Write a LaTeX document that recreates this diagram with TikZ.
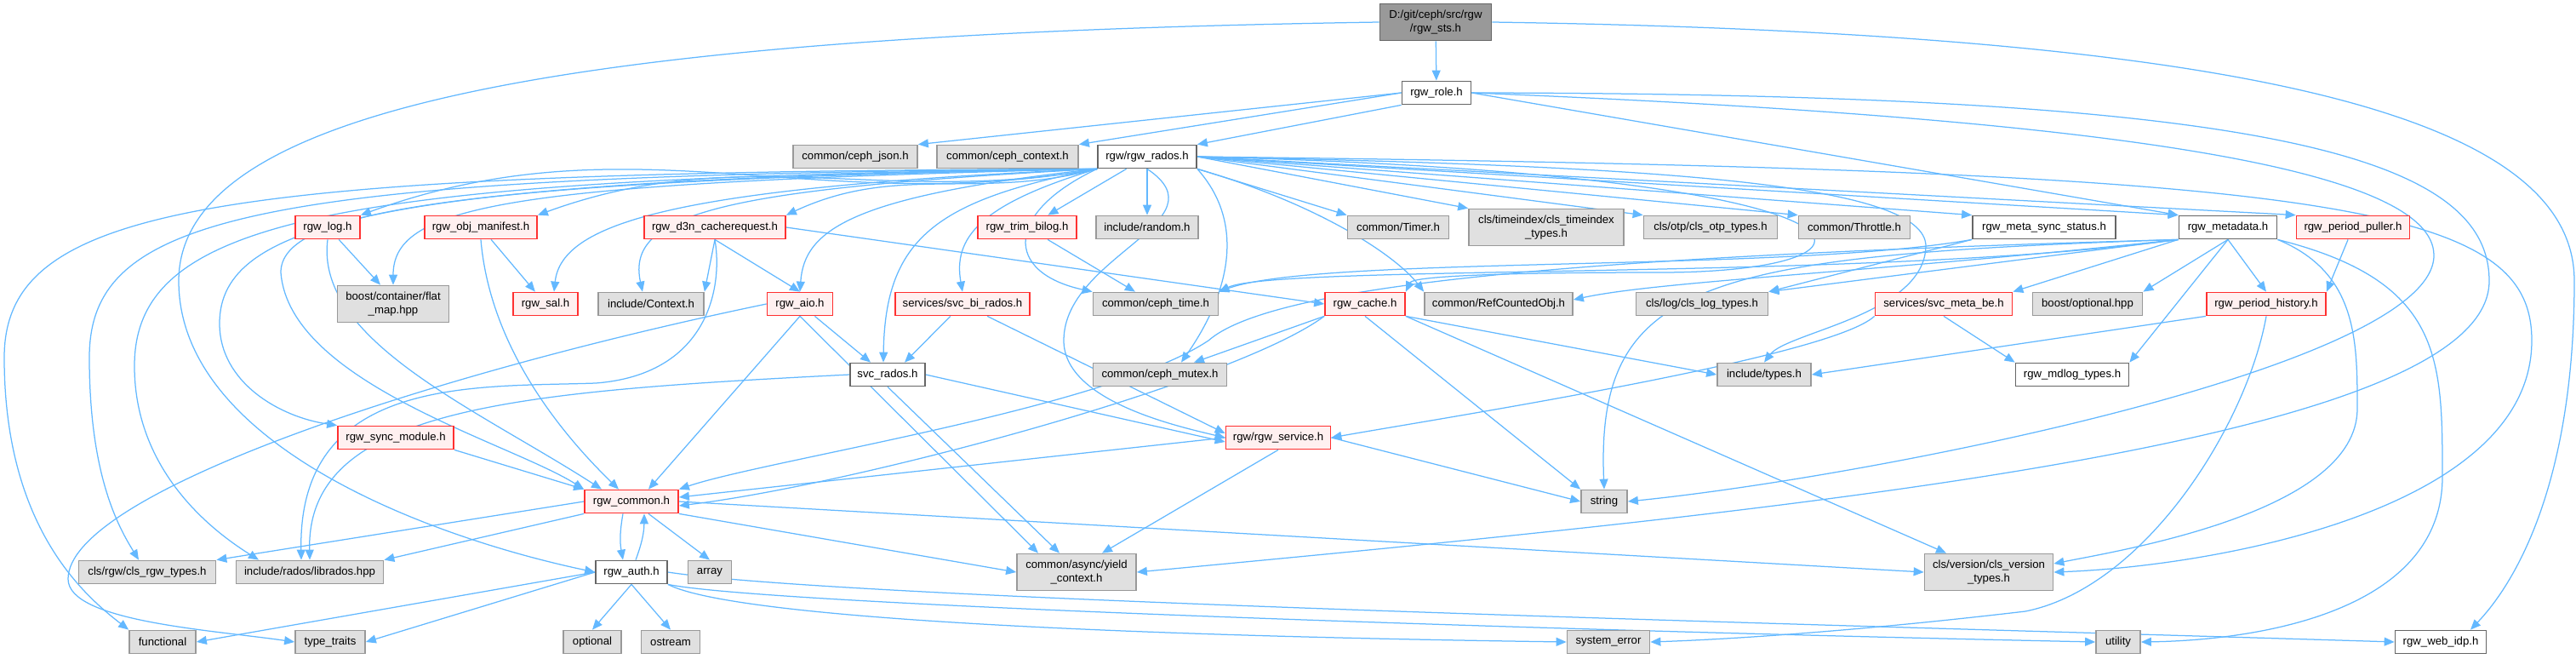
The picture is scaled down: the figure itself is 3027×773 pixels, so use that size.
\documentclass[tikz,border=0pt]{standalone}
\usepackage{fontspec}
\setmainfont{Liberation Sans}
\usetikzlibrary{arrows.meta, backgrounds}

\definecolor{edgeBlue}{HTML}{63B8FF}
\definecolor{extFill}{HTML}{E0E0E0}
\definecolor{extBorder}{HTML}{999999}
\definecolor{truncFill}{HTML}{FFF0F0}
\definecolor{truncBorder}{HTML}{FF3030}
\definecolor{fileBorder}{HTML}{666666}
\definecolor{rootFill}{HTML}{999999}

\begin{document}
\begin{tikzpicture}[
        x=0.2mm, y=-0.2mm,
        baseNode/.style={
            rectangle,
            line width=0.35mm,
            font=\fontsize{7.5}{9.5}\selectfont,
            align=center,
            inner sep=1pt,
            minimum height=5.4mm
        },
        rootNode/.style={baseNode, draw=fileBorder, fill=rootFill},
        fileNode/.style={baseNode, draw=fileBorder, fill=white},
        truncNode/.style={baseNode, draw=truncBorder, fill=truncFill},
        extNode/.style={baseNode, draw=extBorder, fill=extFill},
        boxWidth/.style={minimum width=#1*0.2mm},
        twoLines/.style={minimum height=8.6mm},
        depEdge/.style={
            draw=edgeBlue,
            line width=0.25mm,
            -{Triangle[length=2.4mm,width=2mm]}
        }
    ]

        \useasboundingbox (0,0) rectangle (3027,773);

        % Header nodes
        \node[rootNode, boxWidth=131, twoLines] (sts) at (1687,26) {D:/git/ceph/src/rgw\\/rgw\_sts.h};
        \node[fileNode, boxWidth=81] (role) at (1688,109) {rgw\_role.h};
        \node[extNode, boxWidth=146] (json) at (1005,184) {common/ceph\_json.h};
        \node[extNode, boxWidth=166] (ctx) at (1184,184) {common/ceph\_context.h};
        \node[fileNode, boxWidth=116] (rados) at (1348,184) {rgw/rgw\_rados.h};

        \node[truncNode, boxWidth=76] (log) at (385,267) {rgw\_log.h};
        \node[truncNode, boxWidth=132] (manifest) at (565,267) {rgw\_obj\_manifest.h};
        \node[truncNode, boxWidth=166] (d3n) at (840,267) {rgw\_d3n\_cacherequest.h};
        \node[truncNode, boxWidth=116] (bilog) at (1207,267) {rgw\_trim\_bilog.h};
        \node[extNode, boxWidth=120] (random) at (1348,267) {include/random.h};
        \node[extNode, boxWidth=119] (timer) at (1643,267) {common/Timer.h};
        \node[extNode, boxWidth=182, twoLines] (timeindex) at (1817,267) {cls/timeindex/cls\_timeindex\\\_types.h};
        \node[extNode, boxWidth=157] (otp) at (2010,267) {cls/otp/cls\_otp\_types.h};
        \node[extNode, boxWidth=131] (throttle) at (2179,267) {common/Throttle.h};
        \node[fileNode, boxWidth=168] (metasync) at (2402,267) {rgw\_meta\_sync\_status.h};
        \node[fileNode, boxWidth=115] (metadata) at (2618,267) {rgw\_metadata.h};
        \node[truncNode, boxWidth=133] (puller) at (2765,267) {rgw\_period\_puller.h};

        \node[extNode, boxWidth=131, twoLines] (flatmap) at (462,357) {boost/container/flat\\\_map.hpp};
        \node[truncNode, boxWidth=76] (sal) at (641,357) {rgw\_sal.h};
        \node[extNode, boxWidth=124] (context) at (765,357) {include/Context.h};
        \node[truncNode, boxWidth=77] (aio) at (940,357) {rgw\_aio.h};
        \node[truncNode, boxWidth=158] (svcbi) at (1131,357) {services/svc\_bi\_rados.h};
        \node[extNode, boxWidth=147] (cephtime) at (1358,357) {common/ceph\_time.h};
        \node[truncNode, boxWidth=94] (cache) at (1604,357) {rgw\_cache.h};
        \node[extNode, boxWidth=174] (refobj) at (1761,357) {common/RefCountedObj.h};
        \node[extNode, boxWidth=155] (clslog) at (2000,357) {cls/log/cls\_log\_types.h};
        \node[truncNode, boxWidth=161] (metabe) at (2284,357) {services/svc\_meta\_be.h};
        \node[extNode, boxWidth=129] (boostopt) at (2453,357) {boost/optional.hpp};
        \node[truncNode, boxWidth=140] (history) at (2663,357) {rgw\_period\_history.h};

        \node[fileNode, boxWidth=88] (svcrados) at (1043,440) {svc\_rados.h};
        \node[extNode, boxWidth=157] (mutex) at (1363,440) {common/ceph\_mutex.h};
        \node[extNode, boxWidth=110] (types) at (2073,440) {include/types.h};
        \node[fileNode, boxWidth=133] (mdlog) at (2435,440) {rgw\_mdlog\_types.h};

        \node[truncNode, boxWidth=136] (syncmod) at (465,514) {rgw\_sync\_module.h};
        \node[truncNode, boxWidth=123] (service) at (1502,514) {rgw/rgw\_service.h};
        \node[truncNode, boxWidth=110] (common) at (742,589) {rgw\_common.h};
        \node[extNode, boxWidth=54] (string) at (1885,589) {string};

        \node[extNode, boxWidth=161] (clsrgw) at (173,672) {cls/rgw/cls\_rgw\_types.h};
        \node[extNode, boxWidth=173] (librados) at (364,672) {include/rados/librados.hpp};
        \node[fileNode, boxWidth=84] (auth) at (742,672) {rgw\_auth.h};
        \node[extNode, boxWidth=51] (array) at (834,672) {array};
        \node[extNode, boxWidth=140, twoLines] (yield) at (1265,672) {common/async/yield\\\_context.h};
        \node[extNode, boxWidth=151, twoLines] (version) at (2337,672) {cls/version/cls\_version\\\_types.h};

        \node[extNode, boxWidth=78] (functional) at (191,754) {functional};
        \node[extNode, boxWidth=82] (typetraits) at (388,754) {type\_traits};
        \node[extNode, boxWidth=68] (stdoptional) at (696,754) {optional};
        \node[extNode, boxWidth=69] (ostream) at (788,754) {ostream};
        \node[extNode, boxWidth=97] (syserr) at (1890,754) {system\_error};
        \node[extNode, boxWidth=52] (utility) at (2489,754) {utility};
        \node[fileNode, boxWidth=107] (webidp) at (2868,754) {rgw\_web\_idp.h};

        \begin{scope}[on background layer]
        % rgw_sts.h
        \draw[depEdge] (sts) -- (role);
        \draw[depEdge] (sts.west) .. controls (700,40) and (210,120) .. (210,330) .. controls (210,520) and (500,630) .. (auth.west);
        \draw[depEdge] (sts.east) .. controls (2700,40) and (3025,150) .. (3025,330) .. controls (3025,560) and (2960,680) .. ([xshift=7mm]webidp.north);

        % rgw_role.h
        \draw[depEdge] (role.west) -- (json.north east);
        \draw[depEdge] (role.west) -- (ctx.north east);
        \draw[depEdge] (role.south west) -- (rados.north east);
        \draw[depEdge] (role.east) -- (metadata.north west);
        \draw[depEdge] (role.east) .. controls (2500,140) and (2860,200) .. (2860,300) .. controls (2860,430) and (2200,560) .. (string.east);
        \draw[depEdge] (role.east) .. controls (2650,110) and (2925,180) .. (2925,330) .. controls (2925,520) and (2100,600) .. (yield.east);

        % rgw_rados.h, left bundle
        \draw[depEdge] (rados.south west) .. controls (250,202) and (5,240) .. (5,420) .. controls (5,620) and (100,700) .. (functional.north west);
        \draw[depEdge] (rados.south west) .. controls (300,205) and (105,250) .. (105,420) .. controls (105,560) and (140,620) .. ([xshift=-2mm]clsrgw.north);
        \draw[depEdge] (rados.south west) .. controls (380,208) and (158,260) .. (158,430) .. controls (158,560) and (260,630) .. ([xshift=-12mm]librados.north);
        \draw[depEdge] (rados.south west) .. controls (450,210) and (258,260) .. (258,380) .. controls (258,450) and (330,490) .. (syncmod.north west);
        \draw[depEdge] (rados.south west) .. controls (520,212) and (330,250) .. (330,320) .. controls (340,450) and (600,520) .. (common.north west);
        \draw[depEdge] (rados.south west) .. controls (600,215) and (462,240) .. (flatmap.north);
        \draw[depEdge] (rados.south west) to[out=190,in=20] (log.north east);
        \draw[depEdge] (rados.south west) to[out=190,in=20] (manifest.north east);
        \draw[depEdge] (rados.south west) to[out=195,in=25] (d3n.north east);
        \draw[depEdge] (rados.south west) .. controls (800,220) and (660,260) .. ([xshift=2mm]sal.north);
        \draw[depEdge] (rados.south west) .. controls (850,222) and (735,250) .. ([xshift=-2mm]context.north);
        \draw[depEdge] (rados.south west) .. controls (1000,230) and (945,270) .. (aio.north);
        \draw[depEdge] (rados.south west) .. controls (1100,235) and (1040,280) .. ([xshift=-1mm]svcrados.north);
        \draw[depEdge] (rados.south west) .. controls (1150,240) and (1120,280) .. (svcbi.north);
        \draw[depEdge] (rados.south west) .. controls (1180,250) and (1180,320) .. (cephtime.north west);

        % rgw_rados.h, right side
        \draw[depEdge] (rados) -- (bilog);
        \draw[depEdge] (rados) -- (random);
        \draw[depEdge] (rados.south east) -- (timer.north west);
        \draw[depEdge] (rados.east) -- (timeindex.north west);
        \draw[depEdge] (rados.east) -- (otp.north west);
        \draw[depEdge] (rados.east) -- (throttle.north west);
        \draw[depEdge] (rados.east) -- (metasync.north west);
        \draw[depEdge] (rados.east) -- (metadata.north west);
        \draw[depEdge] (rados.east) -- (puller.north west);
        \draw[depEdge] (rados.south east) .. controls (1550,240) and (1640,300) .. (refobj.north west);
        \draw[depEdge] (rados.south) .. controls (1440,260) and (1250,300) .. (1250,400) .. controls (1250,470) and (1380,500) .. (service.west);
        \draw[depEdge] (rados.south east) .. controls (1480,280) and (1420,380) .. ([xshift=5mm]mutex.north);
        \draw[depEdge] (rados.east) .. controls (1950,195) and (2265,215) .. (2263,290) .. controls (2260,370) and (2100,390) .. (types.north);
        \draw[depEdge] (rados.east) .. controls (2250,205) and (2250,320) .. (1950,320) .. controls (1750,320) and (1660,325) .. (cache.north east);
        \draw[depEdge] (rados.east) .. controls (2750,200) and (2975,240) .. (2975,400) .. controls (2975,600) and (2600,665) .. (version.east);

        % rgw_d3n_cacherequest.h
        \draw[depEdge] (d3n.south) -- (context.north east);
        \draw[depEdge] (d3n.south) -- (aio.north);
        \draw[depEdge] (d3n.east) -- (cache.west);
        \draw[depEdge] (d3n.south) .. controls (850,340) and (830,440) .. (700,450) .. controls (560,455) and (350,440) .. ([xshift=-2mm]librados.north);

        % rgw_log.h, rgw_obj_manifest.h, rgw_trim_bilog.h
        \draw[depEdge] (log) -- ([xshift=-3mm]flatmap.north);
        \draw[depEdge] (log.south) .. controls (370,400) and (560,480) .. ([xshift=-7mm]common.north);
        \draw[depEdge] (manifest) -- (sal);
        \draw[depEdge] (manifest.south) .. controls (575,400) and (650,500) .. ([xshift=-3mm]common.north);
        \draw[depEdge] (bilog) -- (cephtime);

        % rgw_aio.h
        \draw[depEdge] (aio) -- ([xshift=-4mm]svcrados.north);
        \draw[depEdge] (aio.south) -- ([xshift=4mm]common.north);
        \draw[depEdge] (aio.south) -- ([xshift=-9mm]yield.north);
        \draw[depEdge] (aio.west) .. controls (500,440) and (80,580) .. (80,680) .. controls (80,730) and (250,740) .. (typetraits.west);

        % services
        \draw[depEdge] (svcbi) -- ([xshift=4mm]svcrados.north);
        \draw[depEdge] (svcbi) -- ([yshift=1mm]service.west);
        \draw[depEdge] (svcrados.west) .. controls (600,460) and (360,480) .. (librados.north);
        \draw[depEdge] (svcrados.east) -- ([yshift=-1mm]service.west);
        \draw[depEdge] (svcrados.south) -- ([xshift=-4mm]yield.north);
        \draw[depEdge] (metabe.south) -- (mdlog.north west);
        \draw[depEdge] (metabe.south west) .. controls (2150,420) and (1700,490) .. (service.east);

        % rgw_cache.h
        \draw[depEdge] (cache.south west) -- ([xshift=8mm]mutex.north);
        \draw[depEdge] (cache.south east) -- (types.west);
        \draw[depEdge] (cache.south) -- (string.north west);
        \draw[depEdge] (cache.south east) -- ([xshift=-10mm]version.north);
        \draw[depEdge] (cache.south west) .. controls (1450,450) and (1000,570) .. ([yshift=-1mm]common.east);

        % rgw_service.h, rgw_sync_module.h
        \draw[depEdge] (service.west) -- ([yshift=1mm]common.east);
        \draw[depEdge] (service.south) -- ([xshift=6mm]yield.north);
        \draw[depEdge] (service.east) -- (string.west);
        \draw[depEdge] (syncmod.south east) -- (common.north west);

        % rgw_common.h and rgw_auth.h
        \draw[depEdge] (common.west) -- (clsrgw.north east);
        \draw[depEdge] (common.south west) -- (librados.north east);
        \draw[depEdge] ([xshift=-2mm]common.south) to[bend right=10] ([xshift=-2mm]auth.north);
        \draw[depEdge] ([xshift=1mm]auth.north) to[bend right=10] ([xshift=3mm]common.south);
        \draw[depEdge] ([xshift=4mm]common.south) -- (array.north);
        \draw[depEdge] (common.south east) -- (yield.west);
        \draw[depEdge] (common.east) -- (version.west);
        \draw[depEdge] (auth.west) -- (functional.east);
        \draw[depEdge] (auth.west) -- (typetraits.east);
        \draw[depEdge] (auth.south) -- (stdoptional.north);
        \draw[depEdge] (auth.south) -- (ostream.north);
        \draw[depEdge] (auth.south east) .. controls (850,720) and (1200,745) .. (syserr.west);
        \draw[depEdge] (auth.south east) .. controls (900,710) and (1800,740) .. (utility.west);
        \draw[depEdge] (auth.east) .. controls (1000,705) and (2200,735) .. (webidp.west);

        % rgw_meta_sync_status.h
        \draw[depEdge] (metasync.south west) .. controls (2100,320) and (1550,300) .. (cephtime.north east);
        \draw[depEdge] (metasync.south west) -- (clslog.north east);

        % rgw_metadata.h
        \draw[depEdge] (metadata.south west) .. controls (2200,330) and (1500,310) .. (cephtime.north east);
        \draw[depEdge] (metadata.south west) .. controls (2200,320) and (1950,330) .. ([yshift=1mm]refobj.east);
        \draw[depEdge] (metadata.south west) -- (clslog.north east);
        \draw[depEdge] (metadata.south west) -- (metabe.north east);
        \draw[depEdge] (metadata.south) -- (boostopt.north east);
        \draw[depEdge] (metadata.south) -- (history.north);
        \draw[depEdge] (metadata.south) -- (mdlog.north east);
        \draw[depEdge] (metadata.south west) .. controls (2000,300) and (1875,330) .. (string.north);
        \draw[depEdge] (metadata.south west) .. controls (1900,300) and (1500,330) .. (1420,400) .. controls (1300,480) and (900,540) .. (common.north east);
        \draw[depEdge] (metadata.south east) .. controls (2770,320) and (2770,400) .. (2770,480) .. controls (2770,600) and (2500,645) .. ([yshift=2mm]version.east);
        \draw[depEdge] (metadata.south east) .. controls (2870,330) and (2870,420) .. (2870,560) .. controls (2870,720) and (2650,752) .. (utility.east);

        % rgw_period_puller.h, rgw_period_history.h
        \draw[depEdge] (puller) -- (history.north east);
        \draw[depEdge] (history.south west) -- (types.east);
        \draw[depEdge] (history.south) .. controls (2640,500) and (2520,690) .. (2380,718) .. controls (2150,745) and (2000,752) .. (syserr.east);
        \end{scope}

    \end{tikzpicture}
\end{document}
